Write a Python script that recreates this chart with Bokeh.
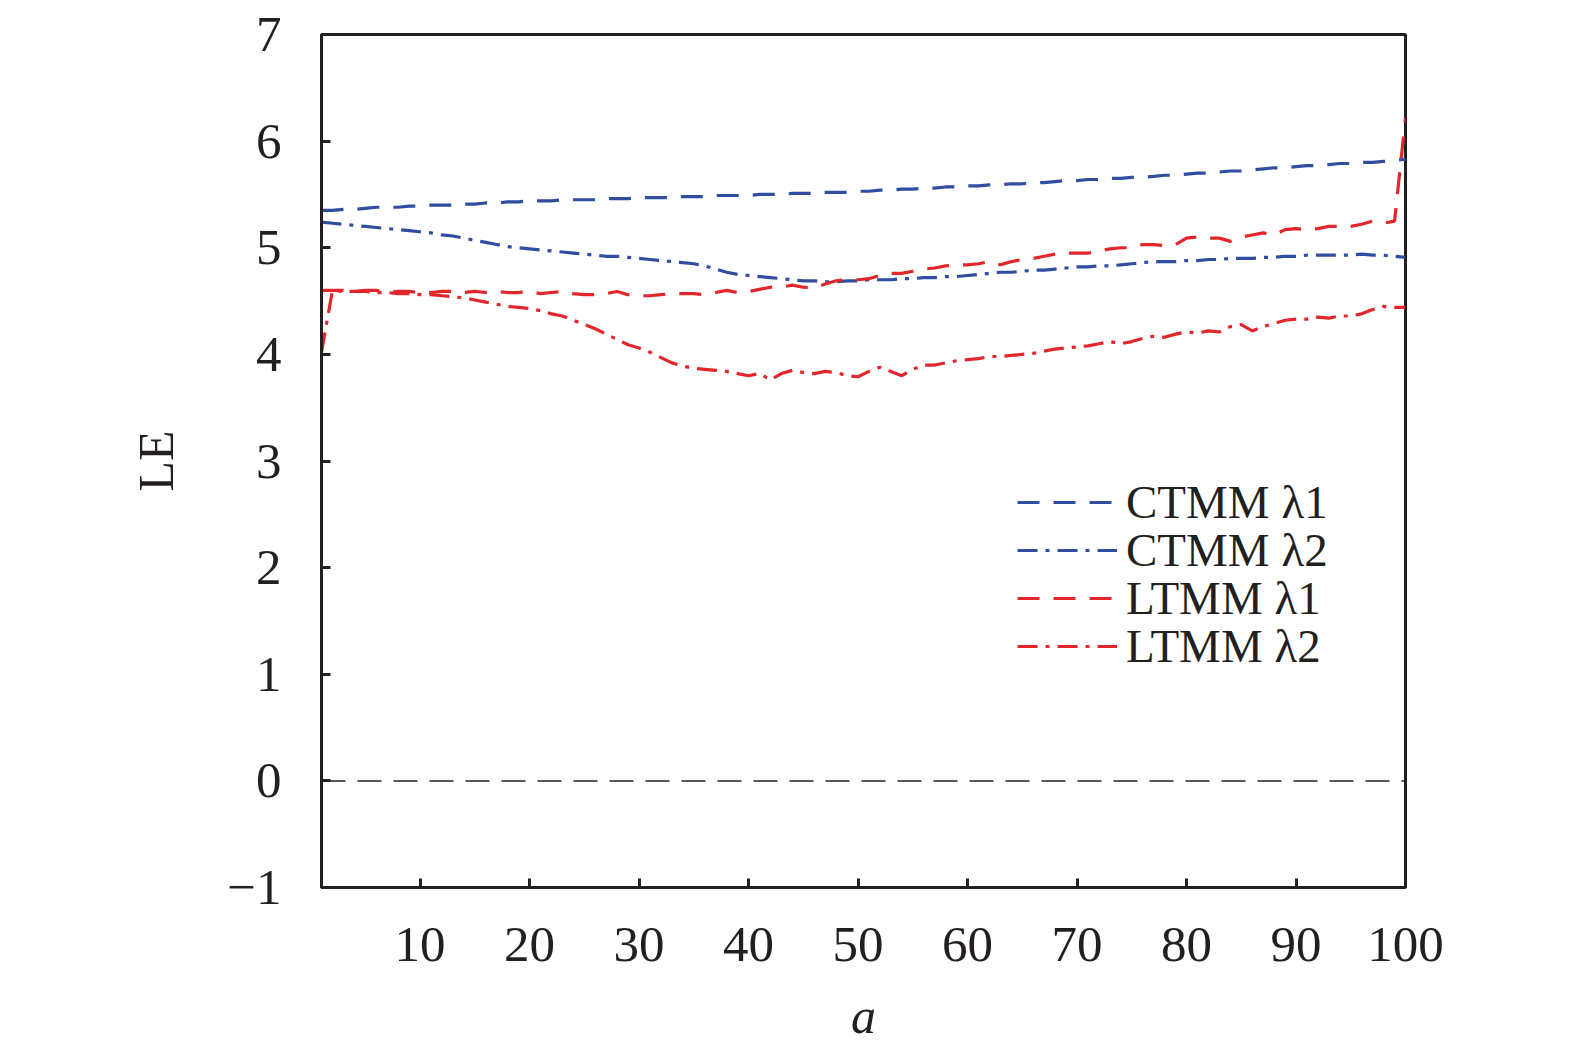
from bokeh.plotting import figure
from bokeh.models import Range1d, Span, Legend, LegendItem, FixedTicker
from bokeh.embed import file_html
from bokeh.resources import INLINE

a = list(range(1, 101))

ctmm_l1 = [5.35,5.35,5.36,5.36,5.37,5.38,5.38,5.38,5.39,5.39,
           5.40,5.40,5.40,5.41,5.41,5.42,5.42,5.43,5.43,5.44,
           5.44,5.44,5.45,5.45,5.45,5.45,5.46,5.46,5.46,5.47,
           5.47,5.47,5.47,5.48,5.48,5.48,5.49,5.49,5.49,5.49,
           5.50,5.50,5.50,5.51,5.51,5.51,5.52,5.52,5.52,5.53,
           5.53,5.54,5.54,5.55,5.55,5.56,5.56,5.57,5.57,5.58,
           5.58,5.59,5.59,5.60,5.60,5.61,5.61,5.62,5.63,5.63,
           5.64,5.64,5.65,5.65,5.66,5.66,5.67,5.68,5.68,5.69,
           5.70,5.70,5.71,5.72,5.72,5.73,5.74,5.75,5.75,5.76,
           5.77,5.77,5.78,5.79,5.79,5.80,5.80,5.81,5.82,5.83]

ctmm_l2 = [5.24,5.23,5.22,5.21,5.20,5.19,5.18,5.17,5.16,5.15,
           5.14,5.12,5.11,5.09,5.07,5.05,5.03,5.01,5.00,4.99,
           4.98,4.97,4.96,4.95,4.94,4.93,4.92,4.92,4.91,4.90,
           4.89,4.88,4.87,4.86,4.85,4.83,4.80,4.77,4.75,4.74,
           4.73,4.72,4.71,4.70,4.69,4.69,4.68,4.68,4.69,4.69,
           4.70,4.70,4.70,4.71,4.71,4.72,4.72,4.73,4.73,4.74,
           4.75,4.76,4.77,4.77,4.78,4.79,4.79,4.80,4.81,4.82,
           4.82,4.83,4.83,4.84,4.85,4.86,4.87,4.87,4.87,4.88,
           4.88,4.89,4.89,4.90,4.90,4.90,4.91,4.91,4.92,4.92,
           4.93,4.93,4.93,4.93,4.93,4.94,4.93,4.93,4.92,4.91]

ltmm_l1 = [4.60,4.60,4.60,4.59,4.60,4.60,4.58,4.59,4.59,4.58,
           4.58,4.59,4.59,4.58,4.59,4.58,4.59,4.58,4.58,4.59,
           4.57,4.58,4.59,4.57,4.56,4.56,4.57,4.59,4.56,4.55,
           4.55,4.56,4.57,4.57,4.57,4.56,4.58,4.60,4.58,4.59,
           4.61,4.63,4.63,4.65,4.63,4.62,4.66,4.69,4.70,4.70,
           4.71,4.74,4.76,4.76,4.78,4.80,4.81,4.83,4.84,4.84,
           4.85,4.87,4.84,4.87,4.89,4.90,4.92,4.94,4.95,4.95,
           4.95,4.97,4.99,5.00,5.00,5.03,5.03,5.02,5.03,5.09,
           5.10,5.09,5.09,5.06,5.10,5.12,5.14,5.12,5.17,5.18,
           5.17,5.18,5.20,5.20,5.20,5.22,5.25,5.23,5.25,6.22]

ltmm_l2 = [4.02,4.60,4.59,4.59,4.59,4.58,4.58,4.57,4.57,4.56,
           4.56,4.55,4.54,4.53,4.51,4.49,4.47,4.45,4.44,4.43,
           4.41,4.38,4.36,4.32,4.28,4.24,4.19,4.14,4.09,4.06,
           4.02,3.97,3.92,3.89,3.87,3.86,3.85,3.84,3.82,3.80,
           3.82,3.76,3.82,3.85,3.83,3.82,3.84,3.83,3.80,3.79,
           3.84,3.88,3.84,3.80,3.86,3.90,3.90,3.92,3.94,3.95,
           3.96,3.98,3.98,3.99,4.00,4.01,4.03,4.05,4.06,4.07,
           4.08,4.10,4.12,4.10,4.12,4.15,4.17,4.16,4.19,4.21,
           4.20,4.22,4.21,4.26,4.28,4.22,4.26,4.29,4.32,4.33,
           4.33,4.35,4.34,4.36,4.36,4.38,4.42,4.45,4.44,4.44]

labels = ["CTMM λ1", "CTMM λ2", "LTMM λ1", "LTMM λ2"]
x_ticks = [10, 20, 30, 40, 50, 60, 70, 80, 90, 100]
y_ticks = [-1, 0, 1, 2, 3, 4, 5, 6, 7]

BLUE = "#2f4ea2"
RED = "#e2262c"
FONT = "Liberation Serif"

p = figure(width=1555, height=1046, output_backend="svg", toolbar_location=None,
           x_range=Range1d(1, 100), y_range=Range1d(-1, 7),
           min_border_left=321, min_border_top=34, min_border_right=150, min_border_bottom=150)

p.background_fill_color = "white"
p.border_fill_color = "white"
p.outline_line_color = "#231f20"
p.outline_line_width = 3
p.xgrid.visible = False
p.ygrid.visible = False

p.xaxis.ticker = FixedTicker(ticks=x_ticks)
p.yaxis.ticker = FixedTicker(ticks=y_ticks)
p.yaxis.major_label_overrides = {-1: "−1"}
for ax in (p.xaxis[0], p.yaxis[0]):
    ax.axis_line_color = "#231f20"
    ax.axis_line_width = 3
    ax.major_tick_line_color = "#231f20"
    ax.major_tick_line_width = 3
    ax.major_tick_in = 9
    ax.major_tick_out = 0
    ax.minor_tick_line_color = None
    ax.major_label_text_font = FONT
    ax.major_label_text_font_size = "51px"
    ax.major_label_text_color = "#231f20"
    ax.axis_label_text_font = FONT
    ax.axis_label_text_font_size = "50px"
    ax.axis_label_text_color = "#231f20"
    ax.axis_label_text_font_style = "normal"

p.xaxis.major_label_standoff = 40
p.yaxis.major_label_standoff = 40
p.xaxis.axis_label = "a"
p.xaxis.axis_label_text_font_style = "italic"
p.xaxis.axis_label_standoff = 24
p.yaxis.axis_label = "LE"
p.yaxis.axis_label_standoff = 40

p.add_layout(Span(location=0, dimension="width", line_color="#231f20",
                  line_width=1.5, line_dash="24 12"))

r1 = p.line(a, ctmm_l1, line_color=BLUE, line_width=3.2, line_dash="22 14")
r2 = p.line(a, ctmm_l2, line_color=BLUE, line_width=3.2, line_dash="20 8 4 8")
r3 = p.line(a, ltmm_l1, line_color=RED, line_width=3.2, line_dash="22 14")
r4 = p.line(a, ltmm_l2, line_color=RED, line_width=3.2, line_dash="20 8 4 8")

legend_y = [358, 310, 262, 214]
for lab, rend, ly in zip(labels, [r1, r2, r3, r4], legend_y):
    lg = Legend(items=[LegendItem(label=lab, renderers=[rend])], location=(696, ly))
    lg.background_fill_alpha = 0
    lg.border_line_color = None
    lg.label_text_font = FONT
    lg.label_text_font_size = "47px"
    lg.label_text_color = "#231f20"
    lg.glyph_width = 100
    lg.glyph_height = 40
    lg.label_height = 40
    lg.label_standoff = 9
    lg.spacing = 0
    lg.padding = 0
    lg.margin = 0
    p.add_layout(lg)

open("out.html", "w").write(file_html(p, INLINE))
